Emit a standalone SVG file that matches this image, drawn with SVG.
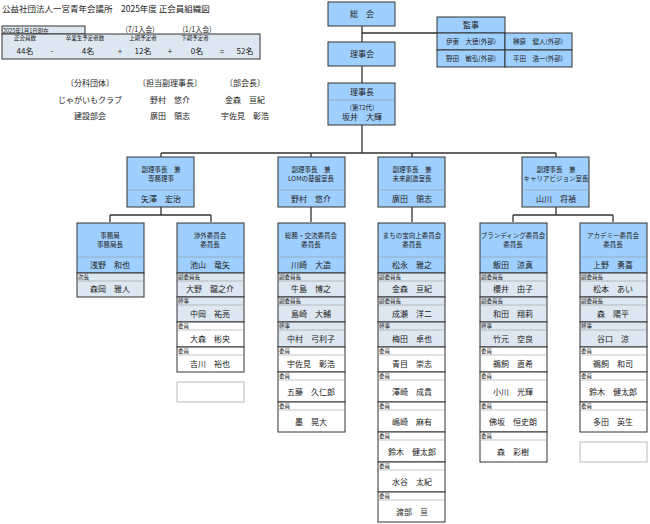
<svg xmlns="http://www.w3.org/2000/svg" width="650" height="524" viewBox="0 0 650 524">
<style>
text{font-family:"Noto Sans CJK JP","Liberation Serif",serif;fill:#222;}
.b{fill:#9fcfff;stroke:#333;stroke-width:1}
.l{fill:#dde7f2;stroke:#333;stroke-width:1}
.w{fill:#fff;stroke:#333;stroke-width:1}
.e{fill:#fff;stroke:#bbb;stroke-width:1}
.s{stroke:#888;stroke-width:0.5}
.sd{stroke:#333;stroke-width:1}
.h{font-size:6.5px;text-anchor:middle}
.n{font-size:8px;text-anchor:middle}
.t{font-size:5.5px}
.c{font-size:8px;text-anchor:middle}
.k{stroke:#333;stroke-width:1.3;fill:none}
</style>
<rect width="650" height="524" fill="#fff"/>
<g id="header">
<text x="2" y="12" style="font-size:8.5px">公益社団法人一宮青年会議所　2025年度 正会員組織図</text>
<rect x="2" y="26" width="83" height="8" class="l"/>
<text x="3" y="32.5" class="t">2025年1月1日現在</text>
<text x="140" y="32" style="font-size:7px" text-anchor="middle">(7/1入会)</text>
<text x="197" y="32" style="font-size:7px" text-anchor="middle">(1/1入会)</text>
<rect x="2" y="34" width="258" height="25" class="l"/>
<text x="25" y="39.5" class="t" text-anchor="middle">正会員数</text>
<text x="85" y="39.5" class="t" text-anchor="middle">卒業生予定者数</text>
<text x="143" y="39.5" class="t" text-anchor="middle">上期予定者</text>
<text x="195" y="39.5" class="t" text-anchor="middle">下期予定者</text>
<g class="c"><text x="25" y="54">44名</text><text x="52" y="54">-</text><text x="88" y="54">4名</text><text x="120" y="54">+</text><text x="143" y="54">12名</text><text x="170" y="54">+</text><text x="197" y="54">0名</text><text x="222" y="54">=</text><text x="245" y="54">52名</text></g>
<g class="c"><text x="90" y="86">〔分科団体〕</text><text x="170" y="86">〔担当副理事長〕</text><text x="245" y="86">〔部会長〕</text>
<text x="90" y="103">じゃがいもクラブ</text><text x="170" y="103">野村　悠介</text><text x="245" y="103">金森　亘紀</text>
<text x="90" y="119">建設部会</text><text x="170" y="119">廣田　領志</text><text x="245" y="119">宇佐見　彰浩</text></g>
</g>
<g id="connectors" class="k">
<path d="M362 26V42M362 33H437M362 66V83M362 125V153M161 153H556M161 153V157M311 153V157M412 153V157M556 153V157"/>
<path d="M161 207V215M110 215H211M110 215V222M211 215V222M311 207V222M412 207V222M556 207V215M513 215H613M513 215V222M613 215V222"/>
</g>
<g id="sokai"><rect x="328" y="2" width="67" height="24" class="b"/><text x="362" y="17" class="n">総　会</text></g>
<g id="rijikai"><rect x="328" y="42" width="67" height="24" class="b"/><text x="362" y="57" class="n">理事会</text></g>
<g id="rijicho"><rect x="328" y="83" width="67" height="42" class="b"/><line x1="328" y1="100" x2="395" y2="100" class="s"/><text x="362" y="95" class="n">理事長</text><text x="362" y="110" class="h">(第72代)</text><text x="362" y="120" class="n">坂井　大輝</text></g>
<g id="kanji">
<rect x="437" y="17" width="68" height="16" class="b"/><text x="471" y="28" class="n">監事</text>
<rect x="437" y="33" width="68" height="17" class="b"/><rect x="505" y="33" width="67" height="17" class="b"/>
<rect x="437" y="50" width="68" height="17" class="b"/><rect x="505" y="50" width="67" height="17" class="b"/>
<g class="h"><text x="471" y="44">伊東　大徳(外部)</text><text x="538" y="44">榊原　健人(外部)</text><text x="471" y="61">野田　敏弘(外部)</text><text x="538" y="61">平田　浩一(外部)</text></g>
</g>
<g id="v1"><rect x="127" y="157" width="67" height="50" class="b"/><line x1="127" y1="190" x2="194" y2="190" class="s"/><text x="161" y="172" class="h">副理事長　兼</text><text x="161" y="181" class="h">専務理事</text><text x="161" y="202" class="n">矢澤　宏治</text></g>
<g id="v2"><rect x="278" y="157" width="67" height="50" class="b"/><line x1="278" y1="190" x2="345" y2="190" class="s"/><text x="311" y="172" class="h">副理事長　兼</text><text x="311" y="181" class="h">LOMの基盤室長</text><text x="311" y="202" class="n">野村　悠介</text></g>
<g id="v3"><rect x="378" y="157" width="67" height="50" class="b"/><line x1="378" y1="190" x2="445" y2="190" class="s"/><text x="412" y="172" class="h">副理事長　兼</text><text x="412" y="181" class="h">未来創造室長</text><text x="412" y="202" class="n">廣田　領志</text></g>
<g id="v4"><rect x="522" y="157" width="67" height="50" class="b"/><line x1="522" y1="190" x2="589" y2="190" class="s"/><text x="556" y="172" class="h">副理事長　兼</text><text x="556" y="181" class="h">キャリアビジョン室長</text><text x="556" y="202" class="n">山川　将禎</text></g>

<g id="c1">
<rect x="77" y="223" width="67" height="50" class="b"/><line x1="77" y1="257" x2="144" y2="257" class="s"/><text x="110" y="238" class="h">事務局</text><text x="110" y="247" class="h">事務局長</text><text x="110" y="268" class="n">浅野　和也</text>
<rect x="77" y="273" width="67" height="24" class="l"/><text x="78" y="279" class="t">次長</text><line x1="77" y1="281" x2="144" y2="281" class="s"/><text x="110" y="292" class="n">森岡　雅人</text>
</g>
<g id="c2">
<rect x="177" y="223" width="67" height="50" class="b"/><line x1="177" y1="257" x2="244" y2="257" class="s"/><text x="210" y="238" class="h">渉外委員会</text><text x="210" y="247" class="h">委員長</text><text x="210" y="268" class="n">池山　竜矢</text>
<rect x="177" y="273" width="67" height="24" class="l"/><text x="178" y="279" class="t">副委員長</text><line x1="177" y1="281" x2="244" y2="281" class="s"/><text x="210" y="292" class="n">大野　龍之介</text>
<rect x="177" y="297" width="67" height="25" class="l"/><text x="178" y="303" class="t">幹事</text><line x1="177" y1="305" x2="244" y2="305" class="s"/><text x="210" y="317" class="n">中岡　祐亮</text>
<rect x="177" y="322" width="67" height="25" class="w"/><text x="178" y="328" class="t">委員</text><line x1="177" y1="330" x2="244" y2="330" class="s"/><text x="210" y="342" class="n">大森　彬央</text>
<rect x="177" y="347" width="67" height="25" class="w"/><text x="178" y="353" class="t">委員</text><line x1="177" y1="355" x2="244" y2="355" class="s"/><text x="210" y="367" class="n">吉川　裕也</text>
<rect x="177" y="382" width="67" height="20" class="e"/>
</g>
<g id="c3">
<rect x="278" y="223" width="67" height="50" class="b"/><line x1="278" y1="257" x2="345" y2="257" class="s"/><text x="311" y="238" class="h">総務・交流委員会</text><text x="311" y="247" class="h">委員長</text><text x="311" y="268" class="n">川崎　大造</text>
<rect x="278" y="273" width="67" height="24" class="l"/><text x="279" y="279" class="t">副委員長</text><line x1="278" y1="281" x2="345" y2="281" class="s"/><text x="311" y="292" class="n">牛島　博之</text>
<rect x="278" y="297" width="67" height="25" class="l"/><text x="279" y="303" class="t">副委員長</text><line x1="278" y1="305" x2="345" y2="305" class="s"/><text x="311" y="317" class="n">島崎　大輔</text>
<rect x="278" y="322" width="67" height="25" class="l"/><text x="279" y="328" class="t">幹事</text><line x1="278" y1="330" x2="345" y2="330" class="s"/><text x="311" y="342" class="n">中村　弓利子</text>
<rect x="278" y="347" width="67" height="25" class="w"/><text x="279" y="353" class="t">委員</text><line x1="278" y1="355" x2="345" y2="355" class="s"/><text x="311" y="367" class="n">宇佐見　彰浩</text>
<rect x="278" y="372" width="67" height="30" class="w"/><text x="279" y="378" class="t">委員</text><line x1="278" y1="380" x2="345" y2="380" class="s"/><text x="311" y="395" class="n">五藤　久仁郎</text>
<rect x="278" y="402" width="67" height="30" class="w"/><text x="279" y="408" class="t">委員</text><line x1="278" y1="410" x2="345" y2="410" class="s"/><text x="311" y="425" class="n">墨　晃大</text>
</g>
<g id="c4">
<rect x="378" y="223" width="67" height="50" class="b"/><line x1="378" y1="257" x2="445" y2="257" class="s"/><text x="412" y="238" class="h">まちの宝向上委員会</text><text x="412" y="247" class="h">委員長</text><text x="412" y="268" class="n">松永　雅之</text>
<rect x="378" y="273" width="67" height="24" class="l"/><text x="379" y="279" class="t">副委員長</text><line x1="378" y1="281" x2="445" y2="281" class="s"/><text x="412" y="292" class="n">金森　亘紀</text>
<rect x="378" y="297" width="67" height="25" class="l"/><text x="379" y="303" class="t">副委員長</text><line x1="378" y1="305" x2="445" y2="305" class="s"/><text x="412" y="317" class="n">成瀬　洋二</text>
<rect x="378" y="322" width="67" height="25" class="l"/><text x="379" y="328" class="t">幹事</text><line x1="378" y1="330" x2="445" y2="330" class="s"/><text x="412" y="342" class="n">梅田　卓也</text>
<rect x="378" y="347" width="67" height="25" class="w"/><text x="379" y="353" class="t">委員</text><line x1="378" y1="355" x2="445" y2="355" class="s"/><text x="412" y="367" class="n">青目　崇志</text>
<rect x="378" y="372" width="67" height="30" class="w"/><text x="379" y="378" class="t">委員</text><line x1="378" y1="380" x2="445" y2="380" class="s"/><text x="412" y="395" class="n">澤崎　成貴</text>
<rect x="378" y="402" width="67" height="30" class="w"/><text x="379" y="408" class="t">委員</text><line x1="378" y1="410" x2="445" y2="410" class="s"/><text x="412" y="425" class="n">嶋崎　麻有</text>
<rect x="378" y="432" width="67" height="30" class="w"/><text x="379" y="438" class="t">委員</text><line x1="378" y1="440" x2="445" y2="440" class="s"/><text x="412" y="455" class="n">鈴木　健太郎</text>
<rect x="378" y="462" width="67" height="30" class="w"/><text x="379" y="468" class="t">委員</text><line x1="378" y1="470" x2="445" y2="470" class="s"/><text x="412" y="485" class="n">水谷　太紀</text>
<rect x="378" y="492" width="67" height="30" class="w"/><text x="379" y="498" class="t">委員</text><line x1="378" y1="500" x2="445" y2="500" class="s"/><text x="412" y="515" class="n">渡部　亘</text>
</g>
<g id="c5">
<rect x="480" y="223" width="67" height="50" class="b"/><line x1="480" y1="257" x2="547" y2="257" class="s"/><text x="513" y="238" class="h">ブランディング委員会</text><text x="513" y="247" class="h">委員長</text><text x="513" y="268" class="n">飯田　涼真</text>
<rect x="480" y="273" width="67" height="24" class="l"/><text x="481" y="279" class="t">副委員長</text><line x1="480" y1="281" x2="547" y2="281" class="s"/><text x="513" y="292" class="n">櫻井　由子</text>
<rect x="480" y="297" width="67" height="25" class="l"/><text x="481" y="303" class="t">副委員長</text><line x1="480" y1="305" x2="547" y2="305" class="s"/><text x="513" y="317" class="n">和田　翔莉</text>
<rect x="480" y="322" width="67" height="25" class="l"/><text x="481" y="328" class="t">幹事</text><line x1="480" y1="330" x2="547" y2="330" class="s"/><text x="513" y="342" class="n">竹元　空良</text>
<rect x="480" y="347" width="67" height="25" class="w"/><text x="481" y="353" class="t">委員</text><line x1="480" y1="355" x2="547" y2="355" class="s"/><text x="513" y="367" class="n">鵜飼　直希</text>
<rect x="480" y="372" width="67" height="30" class="w"/><text x="481" y="378" class="t">委員</text><line x1="480" y1="380" x2="547" y2="380" class="s"/><text x="513" y="395" class="n">小川　光輝</text>
<rect x="480" y="402" width="67" height="30" class="w"/><text x="481" y="408" class="t">委員</text><line x1="480" y1="410" x2="547" y2="410" class="s"/><text x="513" y="425" class="n">佛坂　恒史朗</text>
<rect x="480" y="432" width="67" height="30" class="w"/><text x="481" y="438" class="t">委員</text><line x1="480" y1="440" x2="547" y2="440" class="s"/><text x="513" y="455" class="n">森　彩樹</text>
</g>
<g id="c6">
<rect x="580" y="223" width="67" height="50" class="b"/><line x1="580" y1="257" x2="647" y2="257" class="s"/><text x="613" y="238" class="h">アカデミー委員会</text><text x="613" y="247" class="h">委員長</text><text x="613" y="268" class="n">上野　勇喜</text>
<rect x="580" y="273" width="67" height="24" class="l"/><text x="581" y="279" class="t">副委員長</text><line x1="580" y1="281" x2="647" y2="281" class="s"/><text x="613" y="292" class="n">松本　あい</text>
<rect x="580" y="297" width="67" height="25" class="l"/><text x="581" y="303" class="t">副委員長</text><line x1="580" y1="305" x2="647" y2="305" class="s"/><text x="613" y="317" class="n">森　陽平</text>
<rect x="580" y="322" width="67" height="25" class="l"/><text x="581" y="328" class="t">幹事</text><line x1="580" y1="330" x2="647" y2="330" class="s"/><text x="613" y="342" class="n">谷口　涼</text>
<rect x="580" y="347" width="67" height="25" class="w"/><text x="581" y="353" class="t">委員</text><line x1="580" y1="355" x2="647" y2="355" class="s"/><text x="613" y="367" class="n">鵜飼　和司</text>
<rect x="580" y="372" width="67" height="30" class="w"/><text x="581" y="378" class="t">委員</text><line x1="580" y1="380" x2="647" y2="380" class="s"/><text x="613" y="395" class="n">鈴木　健太郎</text>
<rect x="580" y="402" width="67" height="30" class="w"/><text x="581" y="408" class="t">委員</text><line x1="580" y1="410" x2="647" y2="410" class="s"/><text x="613" y="425" class="n">多田　英生</text>
<rect x="580" y="442" width="67" height="20" class="e"/>
</g>
</svg>
